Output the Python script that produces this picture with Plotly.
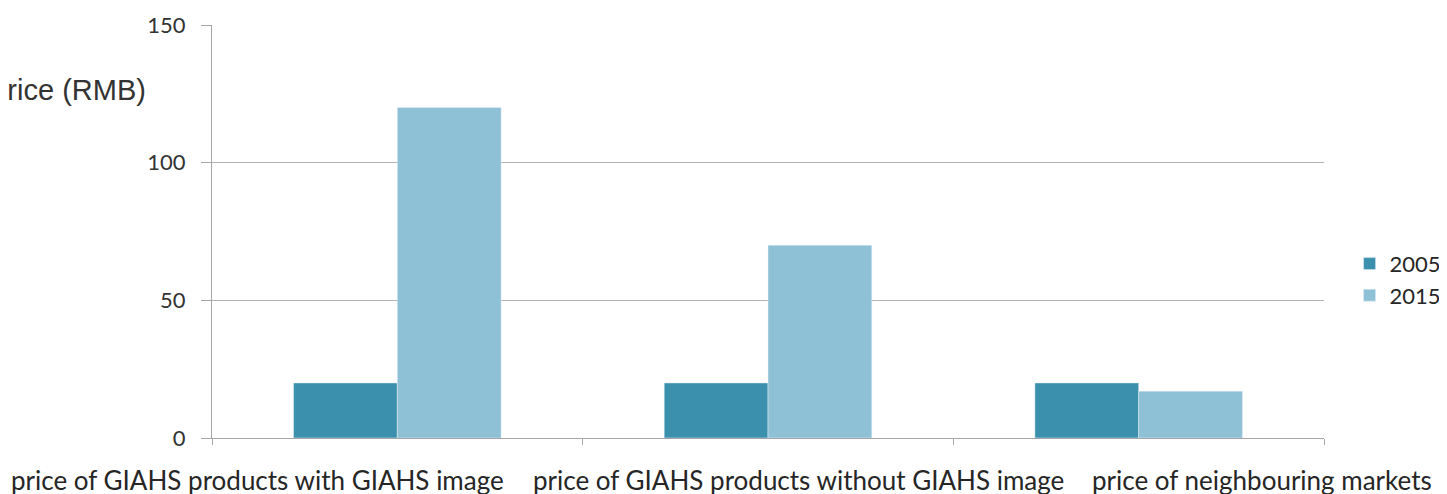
import plotly.graph_objs as go

categories = ["price of GIAHS products with GIAHS image",
              "price of GIAHS products without GIAHS image",
              "price of neighbouring markets"]
price_2005 = [20, 20, 20]
price_2015 = [120, 70, 17]
y_ticks = [0, 50, 100, 150]
# labels in the original are wider than their categories, so they are nudged sideways
label_shift = [-140, 30, 123]

data = [
    go.Bar(x=categories, y=price_2005, name="2005", marker_color="#3b91ad"),
    go.Bar(x=categories, y=price_2015, name="2015", marker_color="#8ec1d6"),
]

label_font = dict(family="Lato, Open Sans, sans-serif", size=26, color="#262626")
annotations = [dict(text=c, x=i, xref="x", y=0, yref="paper", yanchor="middle",
                    yshift=-42, xshift=s, showarrow=False, font=label_font)
               for i, (c, s) in enumerate(zip(categories, label_shift))]
annotations.append(dict(text="Price (RMB)", xref="paper", yref="paper", x=0, y=0.843,
                        xshift=-64, xanchor="right", yanchor="middle", showarrow=False,
                        font=dict(family="Liberation Sans, Arial", size=29, color="#333333")))

layout = go.Layout(
    width=1447, height=494,
    margin=dict(l=204, r=131, t=17, b=64, autoexpand=False),
    paper_bgcolor="white", plot_bgcolor="white",
    font=dict(family="Lato, Open Sans, sans-serif", color="#333333", size=22),
    bargap=0.44, bargroupgap=0,
    showlegend=True,
    legend=dict(x=1.023, y=0.383, yanchor="middle", xanchor="left",
                font=dict(size=22, color="#262626"), itemwidth=30),
    xaxis=dict(range=[-0.5, len(categories) - 0.5], showline=True, linecolor="#a6a6a6",
               linewidth=1, automargin=False, ticks="outside", tickcolor="#a6a6a6",
               ticklen=6, tickson="boundaries", showticklabels=False),
    yaxis=dict(range=[0, 150], tickvals=y_ticks, showline=True, linecolor="#a6a6a6",
               ticks="outside", tickcolor="#a6a6a6", ticklen=10, ticklabelstandoff=11,
               showgrid=True, gridcolor="#b3b3b3", gridwidth=1, zeroline=False,
               automargin=False, tickfont=dict(size=22, color="#333333")),
    annotations=annotations,
)

fig = go.Figure(data=data, layout=layout)
fig.write_html("out.html")
